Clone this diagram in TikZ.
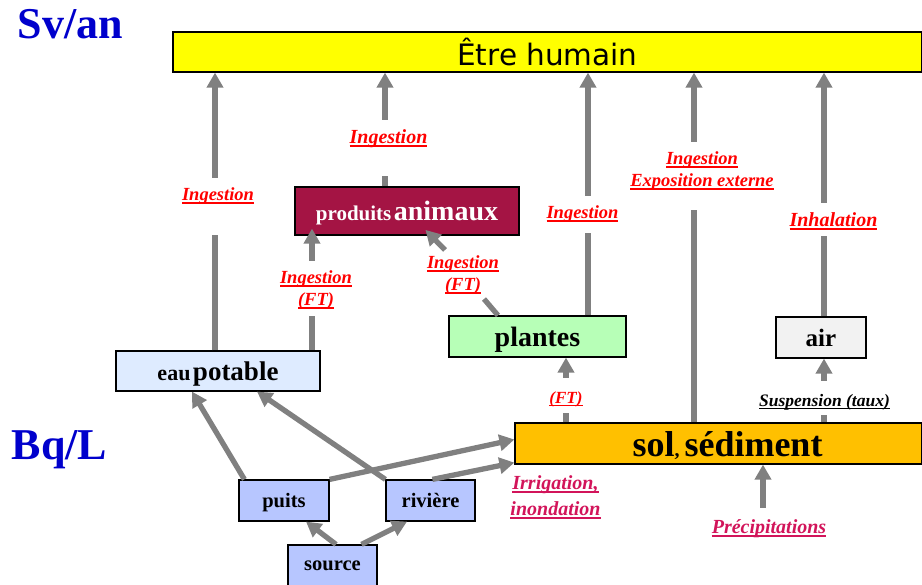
\documentclass[tikz,border=0pt]{standalone}
\usepackage{fontspec}
\setmainfont{Liberation Serif}
\newfontfamily\roundfont{DejaVu Sans}
\usetikzlibrary{arrows.meta}

\definecolor{flowgray}{RGB}{128,128,128}
\definecolor{unitblue}{RGB}{0,0,204}
\definecolor{yellowbox}{RGB}{255,255,0}
\definecolor{animauxred}{RGB}{164,20,68}
\definecolor{eaublue}{RGB}{222,235,255}
\definecolor{plantgreen}{RGB}{183,255,183}
\definecolor{airgray}{RGB}{242,242,242}
\definecolor{solorange}{RGB}{255,192,0}
\definecolor{waterblue}{RGB}{183,198,255}
\definecolor{pinkred}{RGB}{210,20,90}

\newcommand{\fsz}[1]{\fontsize{#1}{#1}\selectfont}
\newcommand{\ulab}[1]{\setbox0\hbox{#1}\rlap{\rule[-3.2pt]{\wd0}{1.6pt}}\box0}

\tikzset{every picture/.style={line width=0.75pt}}
\tikzset{
	box/.style={draw=black, line width=1.2pt, inner sep=0pt, text depth=0pt, font=\bfseries},
	stem/.style={draw=flowgray, line width=5.3pt},
	flow/.style={stem, -{Triangle[width=16pt,length=15pt]}},
	lbl/.style={text=red, inner sep=0pt, align=center, font=\bfseries\itshape\fontsize{18.5}{22}\selectfont},
	biglbl/.style={lbl, font=\bfseries\itshape\fontsize{20}{26}\selectfont},
	unit/.style={text=unitblue, inner sep=0pt, anchor=base, font=\bfseries\fsz{44}}
}

\begin{document}
\begin{tikzpicture}[x=1pt,y=-1pt]
	\useasboundingbox (0,0) rectangle (922,585);
	\node[unit] (sv) at (70.5,39) {Sv/an};
	\node[unit] (bq) at (59.5,460) {Bq/L};

	\node[box, fill=yellowbox, minimum width=749pt, minimum height=40pt, font=\roundfont\fsz{29.5}] (humain) at (547.5,52) {Être humain};
	\node[box, fill=animauxred, text=white, minimum width=224pt, minimum height=48pt] (animaux) at (407,211) {{\fsz{21}produits} {\fsz{28}animaux}};
	\node[box, fill=eaublue, minimum width=204pt, minimum height=40pt] (eau) at (218,371) {{\fsz{22}eau} {\fsz{27}potable}};
	\node[box, fill=plantgreen, minimum width=177pt, minimum height=41pt, font=\bfseries\fsz{28}] (plantes) at (537.5,336.5) {plantes};
	\node[box, fill=airgray, minimum width=90pt, minimum height=41pt, font=\bfseries\fsz{25}] (air) at (821,337.5) {air};
	\node[box, fill=solorange, minimum width=407pt, minimum height=41pt, font=\bfseries\fsz{36}] (sol) at (718.5,443.5) {\hspace*{18pt}sol{\fsz{20}, }sédiment};
	\node[box, fill=waterblue, minimum width=90pt, minimum height=41pt, font=\bfseries\fsz{20.5}] (puits) at (284,500.5) {puits};
	\node[box, fill=waterblue, minimum width=89pt, minimum height=41pt, font=\bfseries\fsz{20.5}] (riviere) at (430.5,500.5) {rivière};
	\node[box, fill=waterblue, minimum width=89pt, minimum height=41pt, font=\bfseries\fsz{20.5}] (source) at (332.5,565.5) {source};

	\node[lbl] (l1) at (218,196) {\ulab{Ingestion}};
	\node[biglbl] (l2) at (388.5,139) {\ulab{Ingestion}};
	\node[lbl] (l3) at (582.5,214) {\ulab{Ingestion}};
	\node[lbl] (l4) at (702,171) {\ulab{Ingestion}\\\ulab{Exposition externe}};
	\node[biglbl] (l5) at (833.5,221) {\ulab{Inhalation}};
	\node[lbl] (l6) at (316,290) {\ulab{Ingestion}\\\ulab{(FT)}};
	\node[lbl] (l7) at (463,275) {\ulab{Ingestion}\\\ulab{(FT)}};
	\node[lbl, font=\bfseries\itshape\fsz{17}] (l8) at (566,399) {\ulab{(FT)}};
	\node[lbl, text=black, font=\bfseries\itshape\fsz{17.5}] (l9) at (824.5,402) {\ulab{Suspension (taux)}};
	\node[biglbl, text=pinkred] (l10) at (555.5,497.5) {\ulab{Irrigation,}\\\ulab{inondation}};
	\node[biglbl, text=pinkred] (l11) at (769,528.5) {\ulab{Précipitations}};

	\coordinate (g1a) at (215,235); \coordinate (g1b) at (215,178);
	\coordinate (g2a) at (385,176); \coordinate (g2b) at (385,120);
	\coordinate (g3a) at (588,233); \coordinate (g3b) at (588,196);
	\coordinate (g4a) at (694,210); \coordinate (g4b) at (694,142);
	\coordinate (g5a) at (824,236); \coordinate (g5b) at (824,203);
	\coordinate (g6a) at (312,316); \coordinate (g6b) at (312,261);
	\coordinate (g7a) at (484,299); \coordinate (g7b) at (445,250);
	\coordinate (g8a) at (566,413); \coordinate (g8b) at (566,378);
	\coordinate (g9a) at (824,415); \coordinate (g9b) at (824,381);
	\coordinate (rain) at (763,508);

	\draw[stem] (eau.north -| g1a) -- (g1a);
	\draw[flow] (g1b) -- (humain.south -| g1b);
	\draw[stem] (animaux.north -| g2a) -- (g2a);
	\draw[flow] (g2b) -- (humain.south -| g2b);
	\draw[stem] (plantes.north -| g3a) -- (g3a);
	\draw[flow] (g3b) -- (humain.south -| g3b);
	\draw[stem] (sol.north -| g4a) -- (g4a);
	\draw[flow] (g4b) -- (humain.south -| g4b);
	\draw[stem] (air.north -| g5a) -- (g5a);
	\draw[flow] (g5b) -- (humain.south -| g5b);
	\draw[stem] (eau.north -| g6a) -- (g6a);
	\draw[flow, shorten >=-7pt] (g6b) -- (animaux.south -| g6b);
	\draw[stem] ([xshift=-39.5pt]plantes.north) -- (g7a);
	\draw[flow, shorten >=-8pt] (g7b) -- ([xshift=24pt]animaux.south);
	\draw[stem] (sol.north -| g8a) -- (g8a);
	\draw[flow] (g8b) -- (plantes.south -| g8b);
	\draw[stem] (sol.north -| g9a) -- (g9a);
	\draw[flow] (g9b) -- (air.south -| g9b);

	\draw[flow] ([xshift=6pt]puits.north west) -- ([xshift=-26pt]eau.south);
	\draw[flow] (puits.north east) -- ([yshift=4pt]sol.west);
	\draw[flow] (riviere.north west) -- ([xshift=39pt]eau.south);
	\draw[flow] ([xshift=47pt]riviere.north west) -- ([yshift=2pt]sol.south west);
	\draw[flow] ([xshift=3.5pt]source.north) -- ([xshift=22pt]puits.south);
	\draw[flow] ([xshift=29pt]source.north) -- ([xshift=-23.5pt]riviere.south);
	\draw[flow] (rain) -- (sol.south -| rain);
\end{tikzpicture}
\end{document}
